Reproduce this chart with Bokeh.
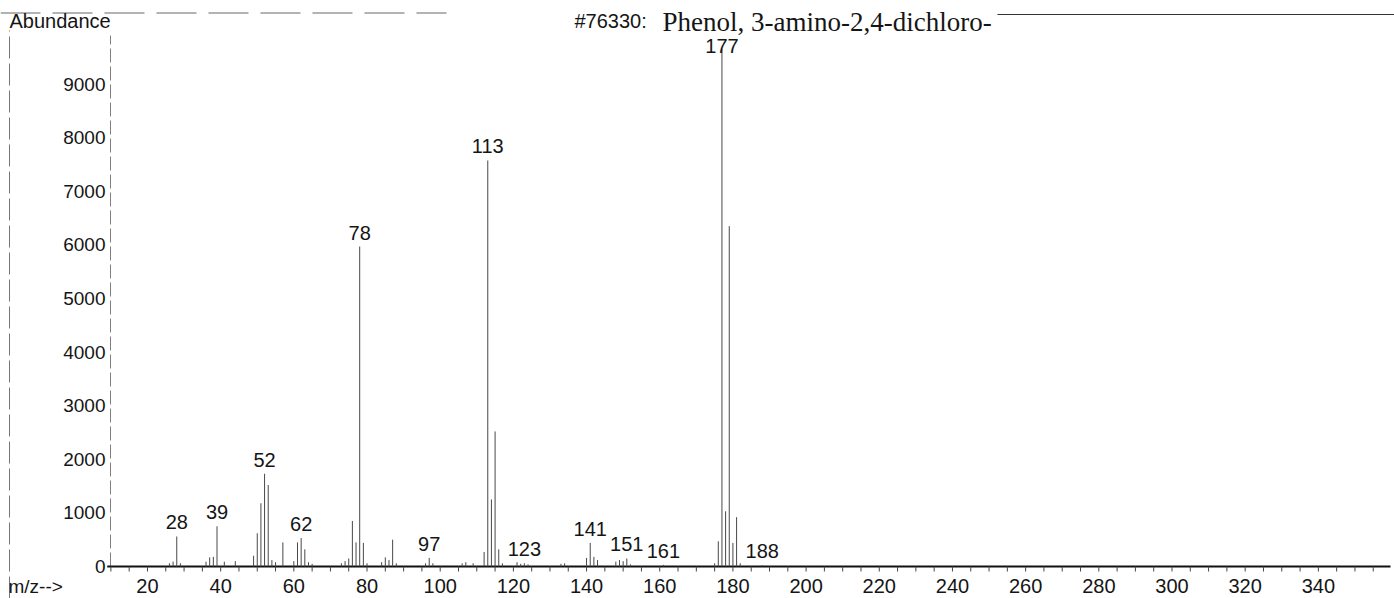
import numpy as np
from bokeh.plotting import figure
from bokeh.models import Range1d
from bokeh.core.properties import value
from bokeh.embed import file_html
from bokeh.resources import INLINE

# ---------------- data ----------------
mz = [26, 27, 28, 29, 36, 37, 38, 39, 41, 44, 49, 50, 51, 52, 53, 54, 55, 57, 60,
      61, 62, 63, 64, 65, 73, 74, 75, 76, 77, 78, 79, 80, 84, 85, 86, 87, 88, 96,
      97, 98, 106, 107, 109, 112, 113, 114, 115, 116, 117, 121, 122, 123, 124,
      133, 134, 140, 141, 142, 143, 148, 149, 150, 151, 152, 161, 175, 176, 177,
      178, 179, 180, 181, 182, 188]
abundance = [60, 90, 560, 60, 90, 170, 180, 750, 90, 100, 200, 620, 1180, 1730, 1520, 120, 80, 450, 100,
             450, 530, 320, 80, 50, 60, 100, 150, 850, 450, 5970, 440, 60, 80, 170, 120, 500, 60, 60,
             160, 60, 60, 80, 60, 270, 7575, 1250, 2520, 320, 60, 80, 50, 60, 40,
             50, 60, 160, 440, 180, 120, 90, 120, 100, 150, 40, 30, 60, 470, 9650,
             1030, 6350, 440, 920, 60, 25]
label_mz = [28, 39, 52, 62, 78, 97, 113, 123, 141, 151, 161, 177, 188]
y_ticks = [0, 1000, 2000, 3000, 4000, 5000, 6000, 7000, 8000, 9000]
x_ticks = [20, 40, 60, 80, 100, 120, 140, 160, 180, 200, 220, 240, 260, 280, 300, 320, 340]
minor_ticks = list(range(10, 360, 5))
y_title = "Abundance"
x_title = "m/z-->"
lib_id = "#76330:"
compound = "Phenol, 3-amino-2,4-dichloro-"

# ---------------- geometry (picture pixel calibration) ----------------
W, H = 1394, 598
X0_PX, PX_X = 73.8, 3.659     # pixel x of m/z 0, px per m/z unit
Y0_PX, PX_Y = 566.0, 0.0536   # pixel y of abundance 0, px per count


def xd(px):
    return (px - X0_PX) / PX_X


def yd(py):
    return (Y0_PX - py) / PX_Y


SANS = value("Liberation Sans")
SERIF = value("Liberation Serif")
INK = "#151515"

p = figure(width=W, height=H, output_backend="svg", toolbar_location=None,
           x_axis_location=None, y_axis_location=None,
           x_range=Range1d(xd(0), xd(W)),
           y_range=Range1d(yd(H), yd(0)),
           min_border=0, outline_line_color=None)
p.grid.visible = False
p.background_fill_color = "white"
p.border_fill_color = "white"

# scan frame lines
p.segment(x0=[xd(9)], y0=[yd(H)], x1=[xd(9)], y1=[yd(30)],
          line_color="#777777", line_width=1, line_dash="22 5")
p.segment(x0=[xd(0)], y0=[yd(12.5)], x1=[xd(446)], y1=[yd(12.5)],
          line_color="#666666", line_width=1, line_dash="40 12")
p.segment(x0=[xd(997)], y0=[yd(14)], x1=[xd(W)], y1=[yd(14)],
          line_color="#333333", line_width=1)

# y axis line
p.segment(x0=[xd(110)], y0=[0], x1=[xd(110)], y1=[yd(35)],
          line_color="#808080", line_width=1, line_dash="14 4")

# baseline and ticks
p.segment(x0=[9], y0=[0], x1=[xd(1390)], y1=[0], line_color="#111111", line_width=2)
p.segment(x0=minor_ticks, y0=[0] * len(minor_ticks), x1=minor_ticks,
          y1=[-5 / PX_Y] * len(minor_ticks), line_color="#444444", line_width=1)

# peaks
p.segment(x0=mz, y0=[0] * len(mz), x1=mz, y1=abundance,
          line_color="#484848", line_width=1)

# peak labels
ab = dict(zip(mz, abundance))
lab_y = [min(ab[m], 9450) for m in label_mz]
p.text(x=label_mz, y=lab_y, text=[str(m) for m in label_mz], text_font=SANS,
       text_font_size="20px", text_align="center", text_baseline="bottom",
       y_offset=-7, text_color=INK)

# y tick labels
p.text(x=[xd(110)] * len(y_ticks), y=y_ticks, text=[str(v) for v in y_ticks],
       text_font=SANS, text_font_size="19px", text_align="right",
       text_baseline="middle", x_offset=-5, text_color=INK)

# x tick labels
p.text(x=x_ticks, y=[yd(585)] * len(x_ticks), text=[str(v) for v in x_ticks],
       text_font=SANS, text_font_size="20px", text_align="center",
       text_baseline="middle", text_color=INK)

# axis titles
p.text(x=[xd(8)], y=[yd(586)], text=[x_title], text_font=SANS, text_font_size="19px",
       text_align="left", text_baseline="middle", text_color=INK)
p.text(x=[xd(9)], y=[yd(20)], text=[y_title], text_font=SANS, text_font_size="20px",
       text_align="left", text_baseline="middle", text_color=INK)

# title
p.text(x=[xd(574)], y=[yd(20)], text=[lib_id], text_font=SANS, text_font_size="20px",
       text_align="left", text_baseline="middle", text_color=INK)
p.text(x=[xd(662)], y=[yd(21)], text=[compound], text_font=SERIF, text_font_size="27px",
       text_align="left", text_baseline="middle", text_color=INK)

open("out.html", "w").write(file_html(p, INLINE))
